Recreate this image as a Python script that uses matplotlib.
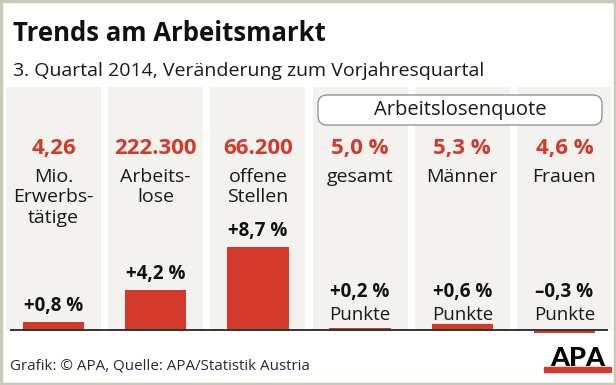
import matplotlib.pyplot as plt
from matplotlib.patches import FancyBboxPatch, Rectangle

# Daten
labels = ['Mio.\nErwerbs-\ntätige', 'Arbeits-\nlose', 'offene\nStellen',
          'gesamt', 'Männer', 'Frauen']
levels = ['4,26', '222.300', '66.200', '5,0 %', '5,3 %', '4,6 %']
changes = [0.8, 4.2, 8.7, 0.2, 0.6, -0.3]
units = ['', '', '', 'Punkte', 'Punkte', 'Punkte']

RED = '#d33a2c'
COLBG = '#f3f2ee'
plt.rcParams['font.family'] = ['Open Sans', 'DejaVu Sans']

W, H = 616, 385
fig = plt.figure(figsize=(W / 100, H / 100), dpi=100)

# Hintergrund-Achse in Pixelkoordinaten
bg = fig.add_axes([0, 0, 1, 1])
bg.set_xlim(0, W)
bg.set_ylim(H, 0)
bg.axis('off')

# Datenachse
base_px, scale = 330, 9.5
top_px, bot_px = 87, 336
left_px, right_px = 2.4, 615.6
ax = fig.add_axes([left_px / W, (H - bot_px) / H, (right_px - left_px) / W, (bot_px - top_px) / H])
ax.set_xlim(-0.5, 5.5)
ax.set_ylim((base_px - bot_px) / scale, (base_px - top_px) / scale)
ax.axis('off')
ax.patch.set_alpha(0)


def py(p):
    return (base_px - p) / scale


x = list(range(len(changes)))
ax.bar(x, [py(top_px)] * len(x), width=0.93, color=COLBG, zorder=0)
ax.bar(x, changes, width=0.6, color=RED, zorder=2)
ax.plot([-0.43, 5.43], [0, 0], color='#333333', lw=1.4, zorder=3,
        solid_capstyle='butt')

for i, (lab, lev, ch, unit) in enumerate(zip(labels, levels, changes, units)):
    ax.text(i, py(154), lev, ha='center', va='baseline', fontsize=16,
            fontweight='bold', color=RED)
    for j, line in enumerate(lab.split('\n')):
        ax.text(i, py(182 + 20.5 * j), line, ha='center', va='baseline',
                fontsize=14, color='#1a1a1a')
    sign = '+' if ch >= 0 else '–'
    txt = f'{sign}{abs(ch):.1f} %'.replace('.', ',')
    if unit:
        ax.text(i, py(297), txt, ha='center', va='baseline', fontsize=13.5,
                fontweight='bold', color='#111111')
        ax.text(i, py(320), unit, ha='center', va='baseline', fontsize=13.5,
                color='#1a1a1a')
    else:
        ax.text(i, ch + 11 / scale, txt, ha='center', va='baseline',
                fontsize=13.5, fontweight='bold', color='#111111')

# Arbeitslosenquote-Box (über den Spalten)
box = FancyBboxPatch((318, 95), 284, 30, boxstyle='round,pad=0,rounding_size=9',
                     facecolor='white', edgecolor='#8a8a8a', lw=0.9, zorder=4,
                     transform=bg.transData, clip_on=False)
ax.add_patch(box)
ax.text(460, 110, 'Arbeitslosenquote', ha='center', va='center',
        fontsize=14.5, color='#1a1a1a', zorder=5, transform=bg.transData)

# Titel
bg.text(13, 41, 'Trends am Arbeitsmarkt', fontsize=18.5, fontweight='bold',
        color='#111111', va='baseline')
bg.text(13, 76, '3. Quartal 2014, Veränderung zum Vorjahresquartal',
        fontsize=14, color='#1a1a1a', va='baseline')

# Fußzeile
bg.text(10, 370, 'Grafik: © APA, Quelle: APA/Statistik Austria',
        fontsize=10.9, color='#2b2b2b', va='baseline')
bg.text(578, 366, 'APA', ha='center', va='baseline', fontsize=19.5,
        fontweight='black', family=['Lato', 'Open Sans'], color='black')
bg.add_patch(Rectangle((544, 366.5), 67, 5.5, color=RED))

# Rahmen
bg.add_patch(Rectangle((1, 1), W - 2, H - 2, fill=False,
                       edgecolor='#c9cab6', lw=2.5))

fig.savefig('out.png', dpi=100)
